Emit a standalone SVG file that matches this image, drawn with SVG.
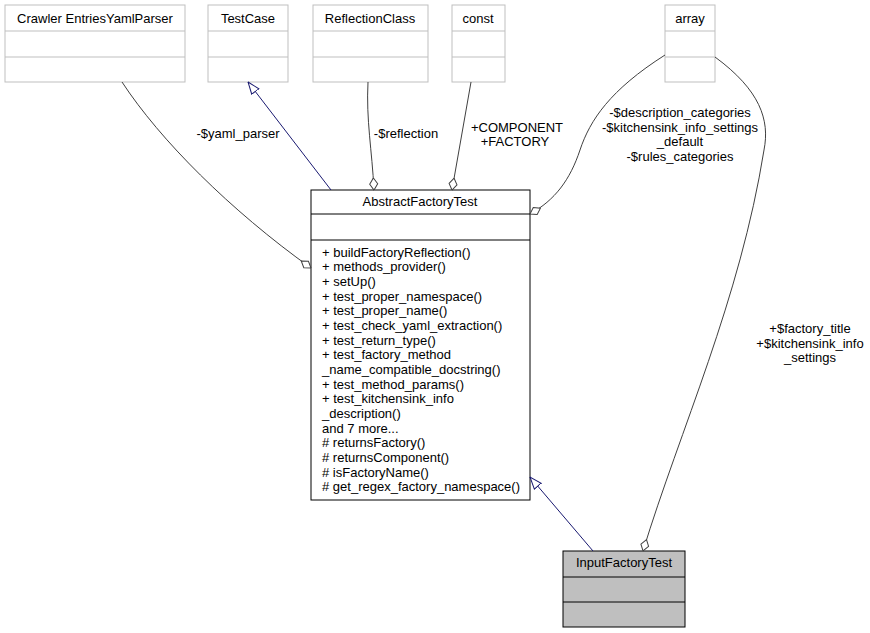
<svg xmlns="http://www.w3.org/2000/svg" width="870" height="633" viewBox="0 0 870 633">
<style>
text{font-family:"Liberation Sans",Arial,sans-serif;font-size:13px;fill:#000}
.c{text-anchor:middle}
.g rect,.g line{fill:#fff;stroke:#bfbfbf;stroke-width:1}
.n rect,.n line{fill:#fff;stroke:#000;stroke-width:1}
.e{fill:none;stroke:#404040;stroke-width:1}
.i{fill:none;stroke:#191970;stroke-width:1}
</style>
<defs>
<marker id="dia" viewBox="0 0 13 10" refX="12.5" refY="5" markerWidth="13" markerHeight="10" orient="auto" markerUnits="userSpaceOnUse"><path d="M0.5,5 L6.5,1 L12.5,5 L6.5,9 Z" fill="#fff" stroke="#404040"/></marker>
<marker id="tri" viewBox="0 0 13 12" refX="12.5" refY="6" markerWidth="13" markerHeight="12" orient="auto" markerUnits="userSpaceOnUse"><path d="M0.5,1.5 L12.5,6 L0.5,10.5 Z" fill="#fff" stroke="#191970"/></marker>
</defs>
<rect width="870" height="633" fill="#fff"/>
<g id="crawler" class="g"><rect x="5" y="5" width="180" height="77"/><line x1="5" y1="31" x2="185" y2="31"/><line x1="5" y1="57" x2="185" y2="57"/><text x="95" y="23" class="c">Crawler EntriesYamlParser</text></g>
<g id="testcase" class="g"><rect x="208" y="5" width="80" height="77"/><line x1="208" y1="31" x2="288" y2="31"/><line x1="208" y1="57" x2="288" y2="57"/><text x="248" y="23" class="c">TestCase</text></g>
<g id="reflection" class="g"><rect x="313" y="5" width="115" height="77"/><line x1="313" y1="31" x2="428" y2="31"/><line x1="313" y1="57" x2="428" y2="57"/><text x="370" y="23" class="c">ReflectionClass</text></g>
<g id="const" class="g"><rect x="452" y="5" width="53" height="77"/><line x1="452" y1="31" x2="505" y2="31"/><line x1="452" y1="57" x2="505" y2="57"/><text x="478" y="23" class="c">const</text></g>
<g id="array" class="g"><rect x="665" y="5" width="50" height="77"/><line x1="665" y1="31" x2="715" y2="31"/><line x1="665" y1="57" x2="715" y2="57"/><text x="690" y="23" class="c">array</text></g>
<g id="abstract" class="n"><rect x="311" y="190" width="219" height="310"/><line x1="311" y1="214" x2="530" y2="214"/><line x1="311" y1="240" x2="530" y2="240"/>
<text x="420" y="206" class="c">AbstractFactoryTest</text>
<text x="322" y="257">+ buildFactoryReflection()</text>
<text x="322" y="271">+ methods_provider()</text>
<text x="322" y="286">+ setUp()</text>
<text x="322" y="301">+ test_proper_namespace()</text>
<text x="322" y="315">+ test_proper_name()</text>
<text x="322" y="330">+ test_check_yaml_extraction()</text>
<text x="322" y="345">+ test_return_type()</text>
<text x="322" y="359">+ test_factory_method</text>
<text x="322" y="374">_name_compatible_docstring()</text>
<text x="322" y="389">+ test_method_params()</text>
<text x="322" y="403">+ test_kitchensink_info</text>
<text x="322" y="418">_description()</text>
<text x="322" y="433">and 7 more...</text>
<text x="322" y="447"># returnsFactory()</text>
<text x="322" y="462"># returnsComponent()</text>
<text x="322" y="477"># isFactoryName()</text>
<text x="322" y="491"># get_regex_factory_namespace()</text>
</g>
<g id="input" class="n"><rect x="563" y="551" width="122" height="76" style="fill:#bfbfbf"/><line x1="563" y1="577" x2="685" y2="577"/><line x1="563" y1="602" x2="685" y2="602"/><text x="624" y="567" class="c">InputFactoryTest</text></g>
<g id="connectors">
<path class="e" d="M122,82 C160,140 230,210 311,268" marker-end="url(#dia)"/>
<path class="i" d="M331,190 L248,82" marker-end="url(#tri)"/>
<path class="e" d="M368,82 C366,120 372,150 374,190" marker-end="url(#dia)"/>
<path class="e" d="M471,82 L452,190" marker-end="url(#dia)"/>
<path class="e" d="M665,55 C610,90 590,120 580,150 C570,180 555,200 530,214" marker-end="url(#dia)"/>
<path class="e" d="M715,57 C760,90 770,120 764,150 C740,300 680,430 643,551" marker-end="url(#dia)"/>
<path class="i" d="M593,551 L530,477" marker-end="url(#tri)"/>
<text x="238" y="138" class="c">-$yaml_parser</text>
<text x="406" y="138" class="c">-$reflection</text>
<text x="517" y="132" class="c">+COMPONENT</text>
<text x="515" y="146" class="c">+FACTORY</text>
<text x="680" y="117" class="c">-$description_categories</text>
<text x="680" y="132" class="c">-$kitchensink_info_settings</text>
<text x="680" y="146" class="c">_default</text>
<text x="680" y="161" class="c">-$rules_categories</text>
<text x="810" y="333" class="c">+$factory_title</text>
<text x="810" y="348" class="c">+$kitchensink_info</text>
<text x="810" y="362" class="c">_settings</text>
</g>
</svg>
